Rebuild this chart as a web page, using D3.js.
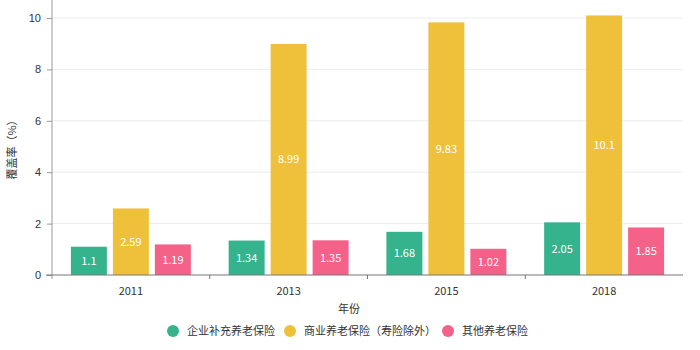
<!DOCTYPE html>
<html>
<head>
<meta charset="utf-8">
<script src="https://cdn.jsdelivr.net/npm/d3@7"></script>
<style>
  html, body { margin: 0; padding: 0; background: #fff; }
  svg { display: block; font-family: "Noto Sans CJK SC", "Noto Sans", sans-serif; }
</style>
</head>
<body>
<svg id="chart" width="700" height="350"></svg>
<script>
// Pension coverage rates by year
const years = ["2011", "2013", "2015", "2018"];
const seriesNames = ["企业补充养老保险", "商业养老保险（寿险除外）", "其他养老保险"];
const enterprise = [1.1, 1.34, 1.68, 2.05];
const commercial = [2.59, 8.99, 9.83, 10.1];
const other = [1.19, 1.35, 1.02, 1.85];
const colors = ["#35b38c", "#efc13b", "#f4628a"];
const yTicks = [0, 2, 4, 6, 8, 10];

const seriesValues = [enterprise, commercial, other];

const svg = d3.select("#chart");
const margin = { left: 52, right: 17, top: 18, bottom: 75 };
const W = 700, H = 350;
const x0 = margin.left, x1 = W - margin.right;
const yBase = H - margin.bottom;

const x = d3.scaleBand().domain(years).range([x0, x1]).paddingInner(0).paddingOuter(0);
const xs = d3.scaleBand().domain(d3.range(seriesNames.length)).range([0, x.bandwidth()])
  .paddingInner(0.143).paddingOuter(0.45);
const y = d3.scaleLinear().domain([0, 10]).range([yBase, margin.top]);

// grid lines
svg.append("g").selectAll("line").data(yTicks.filter(d => d > 0)).join("line")
  .attr("x1", x0).attr("x2", x1)
  .attr("y1", d => y(d)).attr("y2", d => y(d))
  .attr("stroke", "#ececec").attr("stroke-width", 1);

// y axis
const yAxis = svg.append("g").attr("transform", `translate(${x0},0)`)
  .call(d3.axisLeft(y).tickValues(yTicks).tickSize(5).tickPadding(6));
yAxis.select(".domain").attr("stroke", "#999").attr("d", `M0,${yBase + 4}V${margin.top - 18}`);
yAxis.selectAll(".tick line").attr("stroke", "#999");
yAxis.selectAll("text").attr("fill", "#333").attr("font-size", 11);

// bars
const groups = svg.append("g").selectAll("g").data(years).join("g")
  .attr("transform", d => `translate(${x(d)},0)`);

groups.each(function(year, i) {
  const g = d3.select(this);
  const vals = seriesValues.map((s, k) => ({ k, v: s[i] }));
  g.selectAll("rect").data(vals).join("rect")
    .attr("x", d => xs(d.k)).attr("width", xs.bandwidth())
    .attr("y", d => y(d.v)).attr("height", d => yBase - y(d.v))
    .attr("fill", d => colors[d.k]);
  g.selectAll("text").data(vals).join("text")
    .attr("x", d => xs(d.k) + xs.bandwidth() / 2)
    .attr("y", d => (y(d.v) + yBase) / 2)
    .attr("dy", "0.35em")
    .attr("text-anchor", "middle")
    .attr("fill", "#fff").attr("font-size", 11)
    .text(d => d.v);
});

// x axis with ticks at band boundaries
const xAxisG = svg.append("g").attr("transform", `translate(0,${yBase})`);
xAxisG.append("line").attr("x1", x0 - 6).attr("x2", x1).attr("y1", 0).attr("y2", 0)
  .attr("stroke", "#777").attr("stroke-width", 1);
xAxisG.selectAll("line.tk").data(years.slice(1)).join("line").attr("class", "tk")
  .attr("x1", d => x(d)).attr("x2", d => x(d)).attr("y1", 0).attr("y2", 4)
  .attr("stroke", "#777");
xAxisG.selectAll("text").data(years).join("text")
  .attr("x", d => x(d) + x.bandwidth() / 2).attr("y", 20)
  .attr("text-anchor", "middle").attr("fill", "#333").attr("font-size", 11)
  .text(d => d);

// axis titles
svg.append("text").attr("x", 349).attr("y", 313).attr("text-anchor", "middle")
  .attr("fill", "#333").attr("font-size", 11).text("年份");
svg.append("text").attr("transform", `translate(16,147) rotate(-90)`)
  .attr("text-anchor", "middle").attr("fill", "#333").attr("font-size", 11).text("覆盖率（%）");

// legend
const legendX = [173, 290, 448];
const legend = svg.append("g").selectAll("g").data(seriesNames).join("g")
  .attr("transform", (d, i) => `translate(${legendX[i]},331)`);
legend.append("circle").attr("r", 6).attr("fill", (d, i) => colors[i]);
legend.append("text").attr("x", 14).attr("dy", "0.35em").attr("fill", "#333")
  .attr("font-size", 11).text(d => d);
</script>
</body>
</html>
